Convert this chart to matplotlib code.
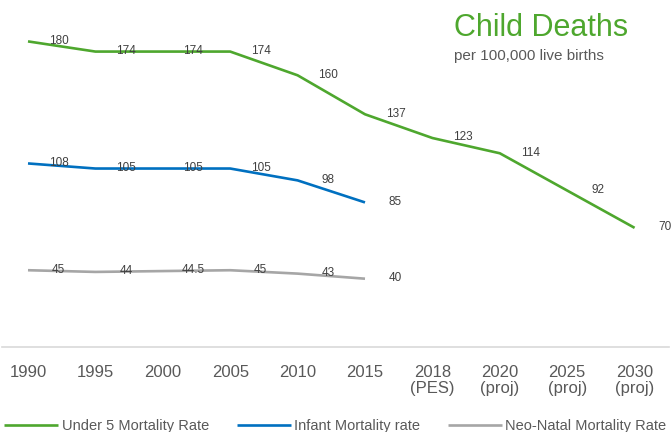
import matplotlib
matplotlib.use("Agg")
import matplotlib.pyplot as plt

# Data
categories = ["1990", "1995", "2000", "2005", "2010", "2015",
              "2018\n(PES)", "2020\n(proj)", "2025\n(proj)", "2030\n(proj)"]
under5 = [180, 174, 174, 174, 160, 137, 123, 114, 92, 70]
infant = [108, 105, 105, 105, 98, 85]
neonatal = [45, 44, 44.5, 45, 43, 40]
series_names = ["Under 5 Mortality Rate", "Infant Mortality rate", "Neo-Natal Mortality Rate"]

GREEN = "#4EA72E"
BLUE = "#0070C0"
GRAY = "#A6A6A6"
TEXT = "#595959"
LABEL = "#404040"
SANS = ["Liberation Sans", "DejaVu Sans"]

W, H = 672, 432
fig = plt.figure(figsize=(W / 100, H / 100), dpi=100)

# Axes placed in pixel terms
left_px, right_px = 2, 669
bottom_px, top_px = 432 - 346.5, 432 - 7.5
ax = fig.add_axes([left_px / W, bottom_px / H, (right_px - left_px) / W, (top_px - bottom_px) / H])

x0, step = 28, 67.4
ax.set_xlim((left_px - x0) / step, (right_px - x0) / step)
ax.set_ylim(0, 200)

xs = list(range(len(categories)))
lw = 1.9
l1, = ax.plot(xs[:len(under5)], under5, color=GREEN, lw=lw, solid_capstyle="butt")
l2, = ax.plot(xs[:len(infant)], infant, color=BLUE, lw=lw, solid_capstyle="butt")
l3, = ax.plot(xs[:len(neonatal)], neonatal, color=GRAY, lw=lw, solid_capstyle="butt")

# Value labels to the right of each point
for vals in (under5, infant, neonatal):
    for i, v in enumerate(vals):
        ax.annotate(f"{v:g}", (i, v), xytext=(22, 0.5), textcoords="offset points",
                    ha="center", va="center", fontsize=8.5, color=LABEL,
                    family=SANS)

# Axis styling
for s in ("top", "right", "left"):
    ax.spines[s].set_visible(False)
ax.spines["bottom"].set_color("#D9D9D9")
ax.spines["bottom"].set_linewidth(1.2)
ax.set_yticks([])
ax.set_xticks(xs)
ax.set_xticklabels(categories, fontsize=12, color=TEXT, family=SANS, linespacing=1.1)
ax.tick_params(axis="x", length=0, pad=13)

# Title and subtitle
fig.text(454 / W, 1 - 28 / H, "Child Deaths", fontsize=22, color=GREEN,
         family=SANS, ha="left", va="center")
fig.text(454 / W, 1 - 56 / H, "per 100,000 live births", fontsize=11, color=TEXT,
         family=SANS, ha="left", va="center")

# Legend
fig.legend([l1, l2, l3], series_names, loc="center left",
           bbox_to_anchor=(4 / W, 1 - 426 / H), ncol=3, frameon=False,
           handlelength=3.7, handletextpad=0.25, columnspacing=1.9,
           prop={"family": SANS, "size": 10.5}, labelcolor=TEXT,
           borderaxespad=0, borderpad=0)

fig.savefig("out.png", dpi=100)
